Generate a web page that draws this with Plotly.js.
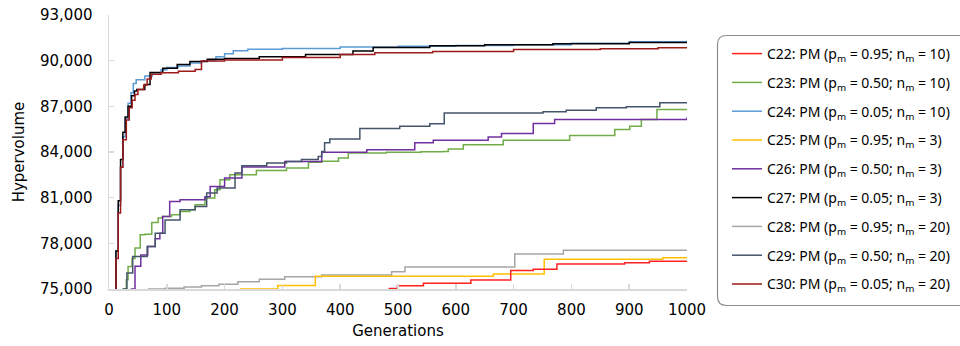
<!DOCTYPE html>
<html>
<head>
<meta charset="utf-8">
<script src="https://cdn.plot.ly/plotly-3.0.1.min.js"></script>
<style>html,body{margin:0;padding:0;background:#fff;}#chart{width:960px;height:346px;}</style>
</head>
<body>
<div id="chart"></div>
<script>
// ---- Data ----
const seriesNames = [
  'C22: PM (p<sub>m</sub> = 0.95; n<sub>m</sub> = 10)',
  'C23: PM (p<sub>m</sub> = 0.50; n<sub>m</sub> = 10)',
  'C24: PM (p<sub>m</sub> = 0.05; n<sub>m</sub> = 10)',
  'C25: PM (p<sub>m</sub> = 0.95; n<sub>m</sub> = 3)',
  'C26: PM (p<sub>m</sub> = 0.50; n<sub>m</sub> = 3)',
  'C27: PM (p<sub>m</sub> = 0.05; n<sub>m</sub> = 3)',
  'C28: PM (p<sub>m</sub> = 0.95; n<sub>m</sub> = 20)',
  'C29: PM (p<sub>m</sub> = 0.50; n<sub>m</sub> = 20)',
  'C30: PM (p<sub>m</sub> = 0.05; n<sub>m</sub> = 20)'
];
const seriesColors = ['#FF2020', '#70AD47', '#5B9BD5', '#FFC000', '#7030A0', '#000000', '#A5A5A5', '#44546A', '#9E1B1B'];

const c22Gen = [480, 485, 499, 544, 626, 695, 734, 775, 892, 935, 1000];
const c22Val = [74800, 75040, 75220, 75370, 75590, 76210, 76300, 76650, 76730, 76820, 76820];

const c23Gen = [22, 25, 30, 33, 40, 45, 54, 62, 74, 85, 92, 108, 123, 140, 149, 166, 183, 192, 209, 255, 307, 345, 368, 397, 414, 480, 540, 578, 587, 613, 682, 797, 875, 901, 921, 948, 1000];
const c23Val = [74500, 75000, 75600, 76470, 77000, 77700, 78560, 78600, 79370, 79660, 79760, 79870, 80090, 80200, 80530, 80970, 81520, 82180, 82510, 82790, 82950, 83320, 83400, 83610, 83940, 83990, 84010, 84040, 84200, 84480, 84770, 85080, 85470, 85690, 86130, 86790, 86790];

const c24Gen = [8, 12, 16, 20, 24, 28, 33, 38, 42, 47, 62, 75, 90, 100, 120, 140, 160, 185, 200, 215, 240, 300, 400, 500, 600, 700, 800, 900, 1000];
const c24Val = [74000, 77500, 80500, 83000, 85000, 86200, 87200, 87900, 88500, 88750, 89000, 89200, 89400, 89550, 89650, 89850, 90000, 90250, 90450, 90650, 90750, 90800, 90900, 90950, 91000, 91050, 91150, 91250, 91330];

const c25Gen = [226, 292, 357, 665, 753, 958, 1000];
const c25Val = [75000, 75230, 75830, 75990, 76960, 77060, 77060];

const c26Gen = [36, 39, 45, 55, 67, 80, 88, 93, 105, 123, 166, 175, 200, 230, 304, 368, 446, 529, 561, 656, 679, 734, 771, 1000];
const c26Val = [74500, 75000, 76500, 77240, 77790, 78300, 78670, 79760, 80750, 80860, 81060, 81740, 82290, 83010, 83380, 83980, 84150, 84600, 84770, 84990, 85210, 85870, 86130, 86280];

const c27Gen = [8, 12, 16, 20, 24, 28, 33, 39, 44, 48, 62, 71, 93, 118, 140, 170, 200, 260, 340, 422, 457, 555, 650, 768, 900, 1000];
const c27Val = [74000, 77500, 80800, 83500, 85300, 86300, 87000, 87700, 88000, 88100, 88430, 89220, 89500, 89750, 89950, 90100, 90150, 90250, 90400, 90630, 90870, 90980, 91050, 91110, 91200, 91240];

const c28Gen = [67, 97, 130, 160, 190, 223, 260, 304, 368, 489, 512, 702, 786, 1000];
const c28Val = [75000, 75050, 75130, 75220, 75320, 75480, 75640, 75810, 75920, 76140, 76450, 77300, 77540, 77540];

const c29Gen = [20, 25, 31, 41, 66, 80, 97, 123, 149, 169, 187, 218, 230, 273, 307, 333, 362, 368, 373, 382, 434, 503, 555, 580, 751, 791, 843, 895, 953, 1000];
const c29Val = [74500, 75000, 76050, 77130, 77790, 78670, 79540, 80200, 80420, 81300, 81630, 82620, 83100, 83280, 83380, 83500, 83710, 84040, 84600, 84860, 85550, 85690, 85850, 86570, 86640, 86740, 86900, 86970, 87230, 87250];

const c30Gen = [8, 12, 16, 20, 24, 30, 35, 40, 45, 50, 60, 66, 73, 90, 120, 149, 160, 200, 300, 400, 460, 560, 700, 850, 950, 1000];
const c30Val = [74000, 77000, 80000, 83000, 84800, 86100, 86900, 87400, 87780, 88100, 88400, 88800, 89100, 89200, 89300, 89420, 89970, 90050, 90200, 90400, 90520, 90600, 90740, 90780, 90850, 90850];

const xTicks = [0, 100, 200, 300, 400, 500, 600, 700, 800, 900, 1000];
const yTicks = [75000, 78000, 81000, 84000, 87000, 90000, 93000];

const gens = [c22Gen, c23Gen, c24Gen, c25Gen, c26Gen, c27Gen, c28Gen, c29Gen, c30Gen];
const vals = [c22Val, c23Val, c24Val, c25Val, c26Val, c27Val, c28Val, c29Val, c30Val];

// ---- Traces ----
const traces = seriesNames.map((name, i) => ({
  type: 'scatter',
  mode: 'lines',
  x: gens[i],
  y: vals[i],
  name: name,
  legendgroup: 'g' + i,
  line: { color: seriesColors[i], width: 1.5, shape: 'hv' },
  hoverinfo: 'skip'
}));

// draw order: bottom group first, top group last
const order = [6, 3, 0, 1, 4, 7, 2, 5, 8];
const drawTraces = order.map(i => Object.assign({}, traces[i], { legendrank: i + 1 }));

// rounded legend frame (paper coords)
const L = 109, T = 15, W = 578, H = 274;
function px2x(p) { return (p - L) / W; }
function px2y(p) { return (T + H - p) / H; }
const bx0 = 717.5, bx1 = 990, by0 = 35.5, by1 = 305.5, r = 9;
const framePath =
  'M ' + px2x(bx0 + r) + ',' + px2y(by0) +
  ' L ' + px2x(bx1) + ',' + px2y(by0) +
  ' L ' + px2x(bx1) + ',' + px2y(by1) +
  ' L ' + px2x(bx0 + r) + ',' + px2y(by1) +
  ' Q ' + px2x(bx0) + ',' + px2y(by1) + ' ' + px2x(bx0) + ',' + px2y(by1 - r) +
  ' L ' + px2x(bx0) + ',' + px2y(by0 + r) +
  ' Q ' + px2x(bx0) + ',' + px2y(by0) + ' ' + px2x(bx0 + r) + ',' + px2y(by0) + ' Z';

const layout = {
  width: 960, height: 346,
  margin: { l: L, r: 960 - L - W, t: T, b: 346 - T - H, pad: 0, autoexpand: false },
  paper_bgcolor: '#ffffff', plot_bgcolor: '#ffffff',
  font: { family: 'DejaVu Sans, sans-serif', size: 15, color: '#000' },
  showlegend: true,
  xaxis: {
    range: [0, 1000], tickvals: xTicks, ticktext: xTicks.map(String),
    showgrid: false, zeroline: false, automargin: false,
    showline: true, linecolor: '#D9D9D9', linewidth: 1.5,
    ticks: 'inside', ticklen: 5, tickcolor: '#D9D9D9', tickwidth: 1.5,
    ticklabelstandoff: 6,
    tickfont: { family: 'DejaVu Sans, sans-serif', size: 15, color: '#000' },
    title: { text: 'Generations', font: { family: 'DejaVu Sans, sans-serif', size: 15, color: '#000' }, standoff: 8 }
  },
  yaxis: {
    range: [75000, 93000], tickvals: yTicks, ticktext: yTicks.map(v => v.toLocaleString('en-US')),
    showgrid: false, zeroline: false, automargin: false,
    showline: true, linecolor: '#D9D9D9', linewidth: 1.5,
    ticks: 'inside', ticklen: 5, tickcolor: '#D9D9D9', tickwidth: 1.5,
    ticklabelstandoff: 12,
    tickfont: { family: 'DejaVu Sans, sans-serif', size: 15, color: '#000' },
    title: { text: 'Hypervolume', font: { family: 'DejaVu Sans, sans-serif', size: 15, color: '#000' }, standoff: 12 }
  },
  legend: {
    x: px2x(727), y: px2y(38), xanchor: 'left', yanchor: 'top',
    bgcolor: 'rgba(0,0,0,0)', borderwidth: 0,
    traceorder: 'grouped', tracegroupgap: 7.6,
    itemwidth: 30,
    font: { family: 'Noto Sans, Open Sans, sans-serif', size: 14, color: '#000' }
  },
  shapes: [{
    type: 'path', xref: 'paper', yref: 'paper', path: framePath,
    line: { color: '#8C8C8C', width: 1.2 }, fillcolor: 'rgba(0,0,0,0)', layer: 'below'
  }]
};

Plotly.newPlot('chart', drawTraces, layout, { displayModeBar: false, staticPlot: true });
</script>
</body>
</html>
